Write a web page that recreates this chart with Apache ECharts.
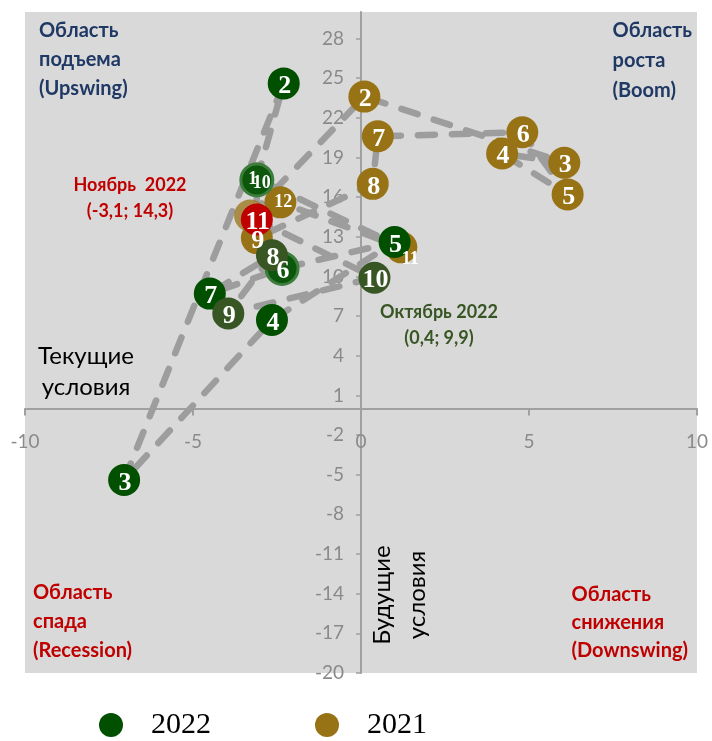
<!DOCTYPE html>
<html><head><meta charset="utf-8">
<script src="https://cdn.jsdelivr.net/npm/echarts@6/dist/echarts.min.js"></script>
<style>html,body{margin:0;padding:0;background:#fff}#c{width:712px;height:741px}</style>
</head><body><div id="c"></div>
<script>
// ---- data ----
const months2022 = ['1','2','3','4','5','6','7','8','9','10','11'];
const current2022 = [-3.1, -2.3, -7.05, -2.65, 1.0, -2.35, -4.5, -2.65, -3.95, 0.4, -3.1];
const future2022  = [17.3, 24.6, -5.4, 6.7, 12.6, 10.6, 8.7, 11.6, 7.2, 9.9, 14.3];
const months2021 = ['1','2','3','4','5','6','7','8','9','10','11','12'];
const current2021 = [-3.3, 0.1, 6.05, 4.2, 6.15, 4.8, 0.5, 0.35, -3.1, -3.1, 1.2, -2.4];
const future2021  = [14.6, 23.6, 18.6, 19.3, 16.2, 20.9, 20.6, 17.0, 12.9, 17.4, 12.2, 15.6];
const xTicks = [-10, -5, 0, 5, 10];
const yTicks = [-20, -17, -14, -11, -8, -5, -2, 1, 4, 7, 10, 13, 16, 19, 22, 25, 28];
const seriesNames = ['2022', '2021'];

// ---- layout / styles (kept separate from data) ----
const W = 712, H = 741;
const G = { left: 25, right: 15, top: 12, bottom: 68 };
const X_MIN = -10, X_MAX = 10, Y_MIN = -20, Y_MAX = 30;
const gridW = W - G.left - G.right, gridH = H - G.top - G.bottom;
const xAxisShift = -(0 - Y_MIN) / (Y_MAX - Y_MIN) * gridH;   // move x axis up to y = 0
const yAxisShift = -(0 - X_MIN) / (X_MAX - X_MIN) * gridW;   // move y axis right to x = 0

const GREEN = '#005000', OLIVE = '#375623', GOLD = '#987316', RED = '#c00000';
const fill2022 = ['#0c570c', GREEN, GREEN, GREEN, GREEN, '#0c570c', GREEN, OLIVE, OLIVE, OLIVE, RED];
const ring2022 = { 0: '#3d7d3d', 5: '#3d7d3d' };
const smallLabel2022 = { 0: [-4, -1] };
const smallLabel2021 = { 9: [5, 5], 10: [9, 12], 11: [3, 0] };
const faded2021 = { 0: 0.75 };
const hiddenLabel2021 = { 0: true };

const labelFont = 'Liberation Serif';
function mkData(xs, ys, months, fills, rings, small, faded, hidden) {
  return xs.map((x, i) => {
    const it = { value: [x, ys[i]], name: months[i], itemStyle: {}, label: {} };
    if (fills) it.itemStyle.color = fills[i];
    if (rings && rings[i]) { it.itemStyle.borderColor = rings[i]; it.itemStyle.borderWidth = 3; }
    if (faded && faded[i]) it.itemStyle.opacity = faded[i];
    if (small && small[i]) { it.label.fontSize = 18; it.label.offset = small[i]; }
    if (hidden && hidden[i]) it.label.show = false;
    return it;
  });
}

const data2022 = mkData(current2022, future2022, months2022, fill2022, ring2022, smallLabel2022, null, null);
const data2021 = mkData(current2021, future2021, months2021, null, null, smallLabel2021, faded2021, hiddenLabel2021);

const lineStyle = { color: '#9d9d9d', width: 6.5, type: [17, 17], cap: 'round', join: 'round' };
const ptLabel = {
  show: true, position: 'inside', formatter: p => p.name, color: '#fff',
  fontFamily: labelFont, fontWeight: 'bold', fontSize: 26, offset: [1, 3]
};

const txtFont = (w, s) => `${w} ${s}px Lato`;
const graphics = [
  { type: 'text', left: 39, top: 16, style: { text: 'Область\nподъема\n(Upswing)', fill: '#1f3864', font: txtFont('bold', 20), lineHeight: 29 } },
  { type: 'text', right: 20, top: 16, style: { text: 'Область\nроста\n(Boom)', fill: '#1f3864', font: txtFont('bold', 20), lineHeight: 30, align: 'right' } },
  { type: 'text', x: 130, y: 172, style: { text: 'Ноябрь  2022\n(-3,1; 14,3)', fill: RED, font: txtFont('bold', 18), lineHeight: 26, align: 'center' } },
  { type: 'text', x: 439, y: 299, style: { text: 'Октябрь 2022\n(0,4; 9,9)', fill: OLIVE, font: txtFont('bold', 18), lineHeight: 26, align: 'center' } },
  { type: 'text', x: 86, y: 341, style: { text: 'Текущие\nусловия', fill: '#000', font: txtFont('normal', 24), lineHeight: 31, align: 'center' } },
  { type: 'text', x: 400, y: 595, rotation: Math.PI / 2, style: { text: 'Будущие\nусловия', fill: '#000', font: txtFont('normal', 24), lineHeight: 35, align: 'center', verticalAlign: 'middle' } },
  { type: 'text', left: 33, top: 578, style: { text: 'Область\nспада\n(Recession)', fill: RED, font: txtFont('bold', 20), lineHeight: 29 } },
  { type: 'text', right: 24, top: 581, style: { text: 'Область\nснижения\n(Downswing)', fill: RED, font: txtFont('bold', 20), lineHeight: 28, align: 'right' } }
];

const chart = echarts.init(document.getElementById('c'), null, { renderer: 'canvas' });
chart.setOption({
  animation: false,
  backgroundColor: '#fff',
  grid: { left: G.left, right: G.right, top: G.top, bottom: G.bottom, show: true, backgroundColor: '#d9d9d9', borderWidth: 0, containLabel: false, outerBoundsMode: 'none' },
  xAxis: {
    type: 'value', min: X_MIN, max: X_MAX, interval: 5, position: 'bottom', offset: xAxisShift,
    axisLine: { onZero: false, lineStyle: { color: '#a0a0a0', width: 2 } },
    axisTick: { show: true, length: 7, lineStyle: { color: '#a0a0a0', width: 2 }, customValues: xTicks },
    axisLabel: { color: '#8a8a8a', fontSize: 19, fontFamily: 'Lato', margin: 24, customValues: xTicks },
    splitLine: { show: false }
  },
  yAxis: {
    type: 'value', min: Y_MIN, max: Y_MAX, position: 'left', offset: yAxisShift,
    axisLine: { onZero: false, lineStyle: { color: '#a0a0a0', width: 2 } },
    axisTick: { show: true, length: 5, lineStyle: { color: '#a0a0a0', width: 1.5 }, customValues: yTicks },
    axisLabel: { color: '#8a8a8a', fontSize: 19, fontFamily: 'Lato', margin: 17, customValues: yTicks },
    splitLine: { show: false }
  },
  legend: {
    data: seriesNames, left: 94, top: 705, itemWidth: 24, itemHeight: 24, itemGap: 104, icon: 'circle',
    textStyle: { fontFamily: labelFont, fontSize: 30, color: '#000', padding: [0, 0, 0, 23] }
  },
  graphic: graphics,
  series: [
    { name: 'line2021', type: 'line', z: 1, data: current2021.map((x, i) => [x, future2021[i]]), symbol: 'none', lineStyle, silent: true },
    { name: 'line2022', type: 'line', z: 1, data: current2022.map((x, i) => [x, future2022[i]]), symbol: 'none', lineStyle, silent: true },
    { name: seriesNames[1], type: 'scatter', z: 3, symbolSize: 32, itemStyle: { color: GOLD, opacity: 1 }, label: ptLabel, data: data2021 },
    { name: seriesNames[0], type: 'scatter', z: 3, symbolSize: 32, itemStyle: { color: GREEN, opacity: 1 }, label: ptLabel, data: data2022 }
  ]
});
</script></body></html>
